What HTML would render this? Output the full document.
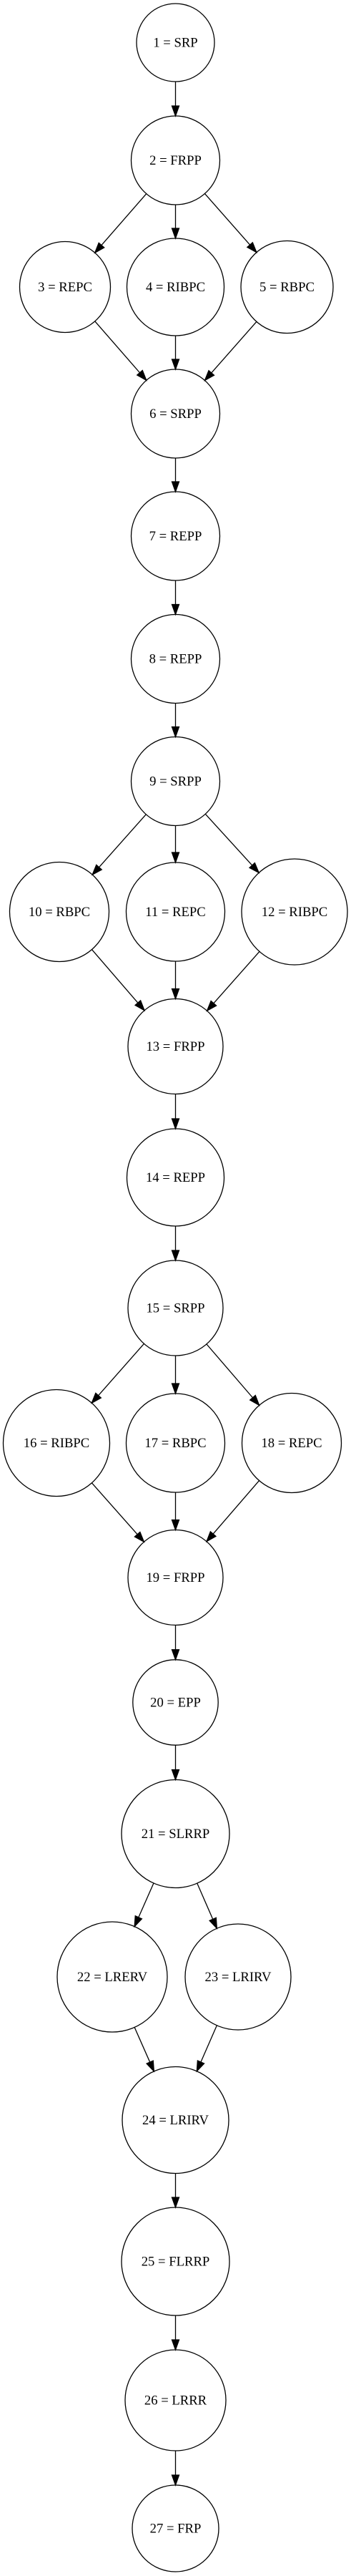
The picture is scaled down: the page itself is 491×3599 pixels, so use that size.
<!DOCTYPE html>
<html><head><meta charset="utf-8">
<style>html,body{margin:0;padding:0;background:#fff;}svg{display:block;}</style>
</head><body>
<svg id="g" xmlns="http://www.w3.org/2000/svg" width="491" height="3599" viewBox="0 0 491 3599">
<rect width="491" height="3599" fill="#fff"/>
</svg>
<script>
var N={
1:[245.5,59.5,54.5,"1 = SRP"],
2:[245.5,224,62,"2 = FRPP"],
3:[91,401,63.5,"3 = REPC"],
4:[245.5,401,68,"4 = RIBPC"],
5:[401.5,401,64.5,"5 = RBPC"],
6:[245.5,578,62,"6 = SRPP"],
7:[245.5,749,62,"7 = REPP"],
8:[245.5,920.5,62,"8 = REPP"],
9:[245.5,1091.5,62,"9 = SRPP"],
10:[83,1274,69.5,"10 = RBPC"],
11:[245.5,1274,69,"11 = REPC"],
12:[412,1274,74,"12 = RIBPC"],
13:[245.5,1462,66.5,"13 = FRPP"],
14:[245.5,1645,68,"14 = REPP"],
15:[245.5,1827.5,66.5,"15 = SRPP"],
16:[79,2016,74.5,"16 = RIBPC"],
17:[245.5,2016,69,"17 = RBPC"],
18:[408,2016,69.5,"18 = REPC"],
19:[245.5,2204,66.5,"19 = FRPP"],
20:[245.5,2378.5,59.7,"20 = EPP"],
21:[245.5,2562,75.5,"21 = SLRRP"],
22:[157,2762,77,"22 = LRERV"],
23:[333,2762,74,"23 = LRIRV"],
24:[245.5,2962,74.5,"24 = LRIRV"],
25:[245.5,3159.5,75.5,"25 = FLRRP"],
26:[245.5,3353.5,70.5,"26 = LRRR"],
27:[245.5,3532.5,60.5,"27 = FRP"]};
var E=[[1,2],[2,3],[2,4],[2,5],[3,6],[4,6],[5,6],[6,7],[7,8],[8,9],[9,10],[9,11],[9,12],[10,13],[11,13],[12,13],[13,14],[14,15],[15,16],[15,17],[15,18],[16,19],[17,19],[18,19],[19,20],[20,21],[21,22],[21,23],[22,24],[23,24],[24,25],[25,26],[26,27]];
var s='';
E.forEach(function(e){var a=N[e[0]],b=N[e[1]];var dx=b[0]-a[0],dy=b[1]-a[1],L=Math.sqrt(dx*dx+dy*dy),ux=dx/L,uy=dy/L;
var x1=a[0]+ux*a[2],y1=a[1]+uy*a[2],tx=b[0]-ux*b[2],ty=b[1]-uy*b[2];var al=14,aw=5;
var bx=tx-ux*al,by=ty-uy*al;
s+='<line x1="'+x1+'" y1="'+y1+'" x2="'+bx+'" y2="'+by+'" stroke="#000" stroke-width="1.3"/>';
s+='<polygon points="'+tx+','+ty+' '+(bx-uy*aw)+','+(by+ux*aw)+' '+(bx+uy*aw)+','+(by-ux*aw)+'" fill="#000" stroke="#000" stroke-width="1.3"/>';});
for(var k in N){var n=N[k];
s+='<circle cx="'+n[0]+'" cy="'+n[1]+'" r="'+n[2]+'" fill="none" stroke="#000" stroke-width="1.3"/>';
s+='<text x="'+n[0]+'" y="'+(n[1]+6)+'" text-anchor="middle" font-family="Liberation Serif, serif" font-size="18.67">'+n[3]+'</text>';}
document.getElementById('g').insertAdjacentHTML('beforeend',s);
</script>
</body></html>
